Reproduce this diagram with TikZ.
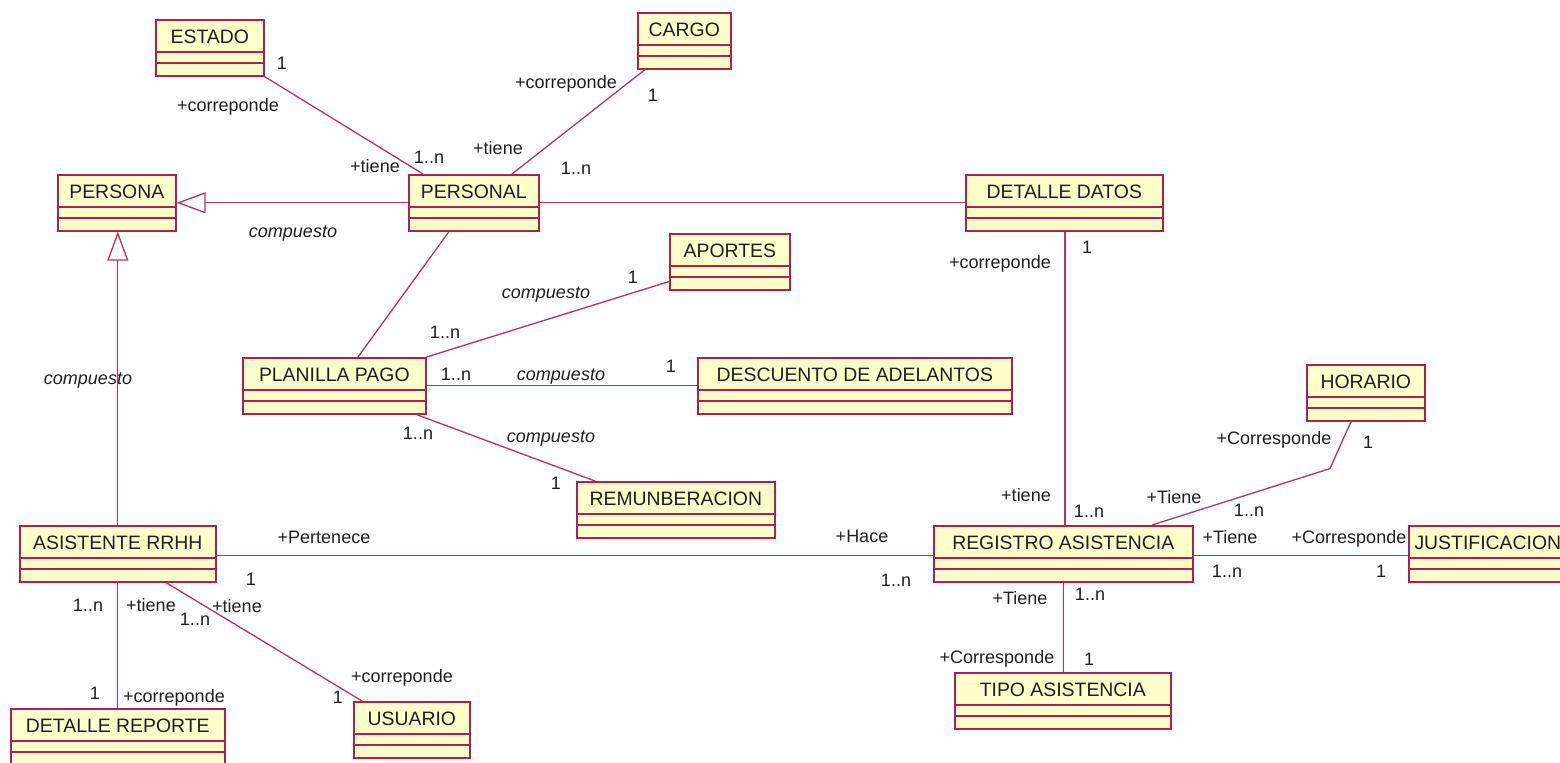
\documentclass[tikz,border=0pt]{standalone}
\usepackage{fontspec}
\setmainfont{Liberation Sans}
\usetikzlibrary{arrows.meta,calc}

\definecolor{umlborder}{HTML}{A8234F}
\definecolor{umlline}{HTML}{B0365E}
\definecolor{umlfill}{HTML}{FFFFCC}
\definecolor{umltext}{HTML}{1E1E1E}

\tikzset{
  classbox/.style={draw=umlborder, line width=0.8pt, fill=umlfill,
    anchor=north west, inner sep=0pt, minimum height=28pt,
    text height=12pt, text depth=16pt, text=umltext,
    font=\fontsize{9.7}{10}\selectfont,
    path picture={
      \draw[umlborder, line width=0.8pt]
        ([yshift=-16pt]path picture bounding box.north west) --
        ([yshift=-16pt]path picture bounding box.north east);
      \draw[umlborder, line width=0.8pt]
        ([yshift=-21.5pt]path picture bounding box.north west) --
        ([yshift=-21.5pt]path picture bounding box.north east);
    }},
  assoc/.style={draw=umlline, line width=0.65pt},
  generalization/.style={assoc, -{Triangle[open, length=14.5pt, width=10.5pt]}},
  lbl/.style={inner sep=0pt, text=umltext, text height=6.5pt, text depth=0pt,
    font=\fontsize{9}{10}\selectfont},
  comp/.style={lbl, font=\fontsize{9}{10}\selectfont\itshape},
}

\begin{document}
\begin{tikzpicture}[x=0.5pt, y=-0.5pt]
\useasboundingbox (0,0) rectangle (1560,763);

% classes
\node[classbox, minimum width=108*0.5pt] (estado)    at (155,19)  {ESTADO};
\node[classbox, minimum width=93*0.5pt]  (cargo)     at (637,12)  {CARGO};
\node[classbox, minimum width=118*0.5pt] (persona)   at (57,174)  {PERSONA};
\node[classbox, minimum width=130*0.5pt] (personal)  at (408,174) {PERSONAL};
\node[classbox, minimum width=197*0.5pt] (detalle)   at (965,174) {DETALLE DATOS};
\node[classbox, minimum width=120*0.5pt] (aportes)   at (669,233) {APORTES};
\node[classbox, minimum width=183*0.5pt] (planilla)  at (242,357) {PLANILLA PAGO};
\node[classbox, minimum width=314*0.5pt] (descuento) at (697,357) {DESCUENTO DE ADELANTOS};
\node[classbox, minimum width=118*0.5pt] (horario)   at (1306,364) {HORARIO};
\node[classbox, minimum width=198*0.5pt] (remun)     at (576,481) {REMUNBERACION};
\node[classbox, minimum width=196*0.5pt] (asistente) at (19,525)  {ASISTENTE RRHH};
\node[classbox, minimum width=259*0.5pt] (registro)  at (933,525) {REGISTRO ASISTENCIA};
\node[classbox, minimum width=158*0.5pt] (justif)    at (1408,525) {JUSTIFICACION};
\node[classbox, minimum width=214*0.5pt] (reporte)   at (10,708)  {DETALLE REPORTE};
\node[classbox, minimum width=116*0.5pt] (usuario)   at (353,701) {USUARIO};
\node[classbox, minimum width=216*0.5pt] (tipo)      at (954,672) {TIPO ASISTENCIA};

% helper points on the borders
\coordinate (dd) at ($(detalle.south west)+(100,0)$);
\coordinate (hbend) at ($(horario.south west)+(24,47)$);

% associations
\draw[assoc] (estado.south east) -- ($(personal.north west)+(15,0)$);
\draw[assoc] ($(cargo.south west)+(8,0)$) -- ($(personal.north west)+(104,0)$);
\draw[assoc] (personal.east) -- (detalle.west);
\draw[assoc] ($(personal.south west)+(41,0)$) -- ($(planilla.north west)+(116,0)$);
\draw[assoc] (planilla.north east) -- ($(aportes.south west)+(0,-9)$);
\draw[assoc] (planilla.east) -- (descuento.west);
\draw[assoc] ($(planilla.south east)+(-10,0)$) -- ($(remun.north west)+(19,0)$);
\draw[assoc] (dd) -- (dd |- registro.north);
\draw[assoc] ($(horario.south west)+(45,0)$) -- (hbend) -- ($(registro.north west)+(219,0)$);
\draw[assoc] ($(asistente.east)+(0,2)$) -- ($(registro.west)+(0,2)$);
\draw[assoc] ($(registro.east)+(0,2)$) -- ($(justif.west)+(0,2)$);
\draw[assoc] (registro.south) -- (registro.south |- tipo.north);
\draw[assoc] (asistente.south) -- (asistente.south |- reporte.north);
\draw[assoc] ($(asistente.south west)+(147,0)$) -- ($(usuario.north west)+(9,0)$);

% generalizations
\draw[generalization] (personal.west) -- (persona.east);
\draw[generalization] (asistente.north) -- (asistente.north |- persona.south);

% role names and multiplicities
\node[lbl] (l01) at (282,63)  {1};
\node[lbl] (l02) at (228,105) {+correponde};
\node[lbl] (l03) at (375,166) {+tiene};
\node[lbl] (l04) at (429,157) {1..n};
\node[lbl] (l05) at (566,82)  {+correponde};
\node[lbl] (l06) at (653,95)  {1};
\node[lbl] (l07) at (498,148) {+tiene};
\node[lbl] (l08) at (576,168) {1..n};
\node[comp] (l09) at (293,231) {compuesto};
\node[comp] (l10) at (88,378)  {compuesto};
\node[lbl] (l11) at (1000,262) {+correponde};
\node[lbl] (l12) at (1087,247) {1};
\node[comp] (l13) at (546,292) {compuesto};
\node[lbl] (l14) at (633,277) {1};
\node[lbl] (l15) at (445,332) {1..n};
\node[lbl] (l16) at (456,374) {1..n};
\node[comp] (l17) at (561,374) {compuesto};
\node[lbl] (l18) at (671,366) {1};
\node[lbl] (l19) at (418,433) {1..n};
\node[comp] (l20) at (551,436) {compuesto};
\node[lbl] (l21) at (556,483) {1};
\node[lbl] (l22) at (1274,438) {+Corresponde};
\node[lbl] (l23) at (1368,442) {1};
\node[lbl] (l24) at (1174,497) {+Tiene};
\node[lbl] (l25) at (1249,510) {1..n};
\node[lbl] (l26) at (1026,495) {+tiene};
\node[lbl] (l27) at (1089,511) {1..n};
\node[lbl] (l28) at (862,536) {+Hace};
\node[lbl] (l29) at (896,580) {1..n};
\node[lbl] (l30) at (324,537) {+Pertenece};
\node[lbl] (l31) at (251,579) {1};
\node[lbl] (l32) at (1230,537) {+Tiene};
\node[lbl] (l33) at (1349,537) {+Corresponde};
\node[lbl] (l34) at (1227,571) {1..n};
\node[lbl] (l35) at (1381,571) {1};
\node[lbl] (l36) at (1020,598) {+Tiene};
\node[lbl] (l37) at (1090,594) {1..n};
\node[lbl] (l38) at (997,657) {+Corresponde};
\node[lbl] (l39) at (1089,659) {1};
\node[lbl] (l40) at (88,605)  {1..n};
\node[lbl] (l41) at (151,605) {+tiene};
\node[lbl] (l42) at (195,619) {1..n};
\node[lbl] (l43) at (237,606) {+tiene};
\node[lbl] (l44) at (95,693)  {1};
\node[lbl] (l45) at (174,696) {+correponde};
\node[lbl] (l46) at (402,676) {+correponde};
\node[lbl] (l47) at (338,697) {1};
\end{tikzpicture}
\end{document}
